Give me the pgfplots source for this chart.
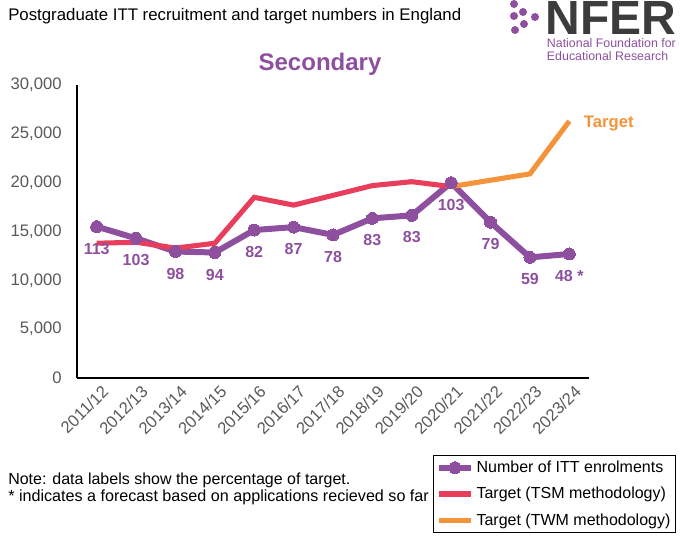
\documentclass[border=0pt]{standalone}
\usepackage{fontspec}
\setmainfont{Liberation Sans}
\usepackage{pgfplots}
\pgfplotsset{compat=1.18}
\definecolor{nfpurple}{RGB}{142,80,158}
\definecolor{nfred}{RGB}{232,62,92}
\definecolor{nforange}{RGB}{243,148,58}
\definecolor{nfgray}{RGB}{60,60,60}
\definecolor{ticktext}{RGB}{89,89,89}
\begin{document}
\begin{tikzpicture}
\path[use as bounding box] (0,0) rectangle (510pt,-403.5pt);
% header title
\node[anchor=west, inner sep=0pt, font=\fontsize{12.6}{14}\selectfont] at (6pt,-12pt) {Postgraduate ITT recruitment and target numbers in England};
% logo
\foreach \px/\py in {514/4, 514/16, 523/12, 535/17, 524/24, 515/30}{
  \fill[nfpurple] (\px*0.75pt,-\py*0.75pt) circle (3pt);
}
\node[anchor=north west, inner sep=0pt, text=nfgray, font=\fontsize{36}{36}\selectfont\bfseries] at (409pt,-1pt) {NFER};
\node[anchor=north west, inner sep=0pt, align=left, text=nfpurple, font=\fontsize{9.3}{10.2}\selectfont] at (410pt,-28.5pt) {National Foundation for\\Educational Research};
% chart title
\node[text=nfpurple, font=\fontsize{18}{20}\selectfont\bfseries] at (240pt,-48.5pt) {Secondary};
% notes
\node[anchor=west, inner sep=0pt, font=\fontsize{12}{14}\selectfont] at (6pt,-360pt) {Note: data labels show the percentage of target.};
\node[anchor=west, inner sep=0pt, font=\fontsize{12.1}{14}\selectfont] at (6pt,-373pt) {* indicates a forecast based on applications recieved so far};
\begin{axis}[
  scale only axis, width=384pt, height=219.75pt,
  at={(57.75pt,-283.5pt)}, anchor=south west,
  xmin=-0.5, xmax=12.5, ymin=0, ymax=30000,
  xtick={0,...,12},
  xticklabels={2011/12,2012/13,2013/14,2014/15,2015/16,2016/17,2017/18,2018/19,2019/20,2020/21,2021/22,2022/23,2023/24},
  ytick={0,5000,10000,15000,20000,25000,30000},
  scaled y ticks=false,
  /pgf/number format/assume math mode=true,
  /pgf/number format/1000 sep={,},
  axis x line*=bottom, axis y line*=left,
  axis line style={-, draw=black, line width=0.8pt},
  major tick length=0pt,
  tick label style={text=ticktext, font=\fontsize{12.5}{14}\selectfont},
  x tick label style={rotate=45, anchor=north east, inner sep=1pt, yshift=-4.5pt},
  y tick label style={xshift=-8pt},
  clip=false,
  legend style={at={(0.695,-0.263)}, anchor=north west, draw=black, line width=0.8pt,
    font=\fontsize{12}{14}\selectfont, inner xsep=2pt, inner ysep=2pt, row sep=5.5pt,
    text=black},
  legend cell align=left,
  legend image code/.code={\draw[mark repeat=2,mark phase=2] plot coordinates {(0cm,0cm) (0.42cm,0cm) (0.84cm,0cm)};},
  nodes near coords style={font=\fontsize{12}{14}\selectfont\bfseries, text=nfpurple, anchor=center, yshift=-16.5pt},
]
\addplot[nfpurple, line width=4.5pt, mark=*, mark size=4.5pt, mark options={fill=nfpurple, draw=nfpurple, line width=0pt},
  nodes near coords, point meta=explicit symbolic] coordinates {
  (0,15500)[113] (1,14300)[103] (2,12950)[98] (3,12850)[94] (4,15150)[82]
  (5,15450)[87] (6,14650)[78] (7,16350)[83] (8,16650)[83] (9,20000)[103]
  (10,15950)[79] (11,12350)[59] (12,12700)[48 *]
};
\addlegendentry{Number of ITT enrolments}
\addplot[nfred, line width=3.8pt, no marks] coordinates {
  (0,13800) (1,13900) (2,13300) (3,13800) (4,18500) (5,17700) (6,18700) (7,19700) (8,20100) (9,19600)
};
\addlegendentry{Target (TSM methodology)}
\addplot[nforange, line width=3.8pt, no marks] coordinates {
  (9,19600) (10,20250) (11,20900) (12,26300)
};
\addlegendentry{Target (TWM methodology)}
\node[anchor=west, text=nforange, font=\fontsize{12.5}{14}\selectfont\bfseries, yshift=-2pt] at (axis cs:12.25,26300) {Target};
\end{axis}
\end{tikzpicture}
\end{document}
